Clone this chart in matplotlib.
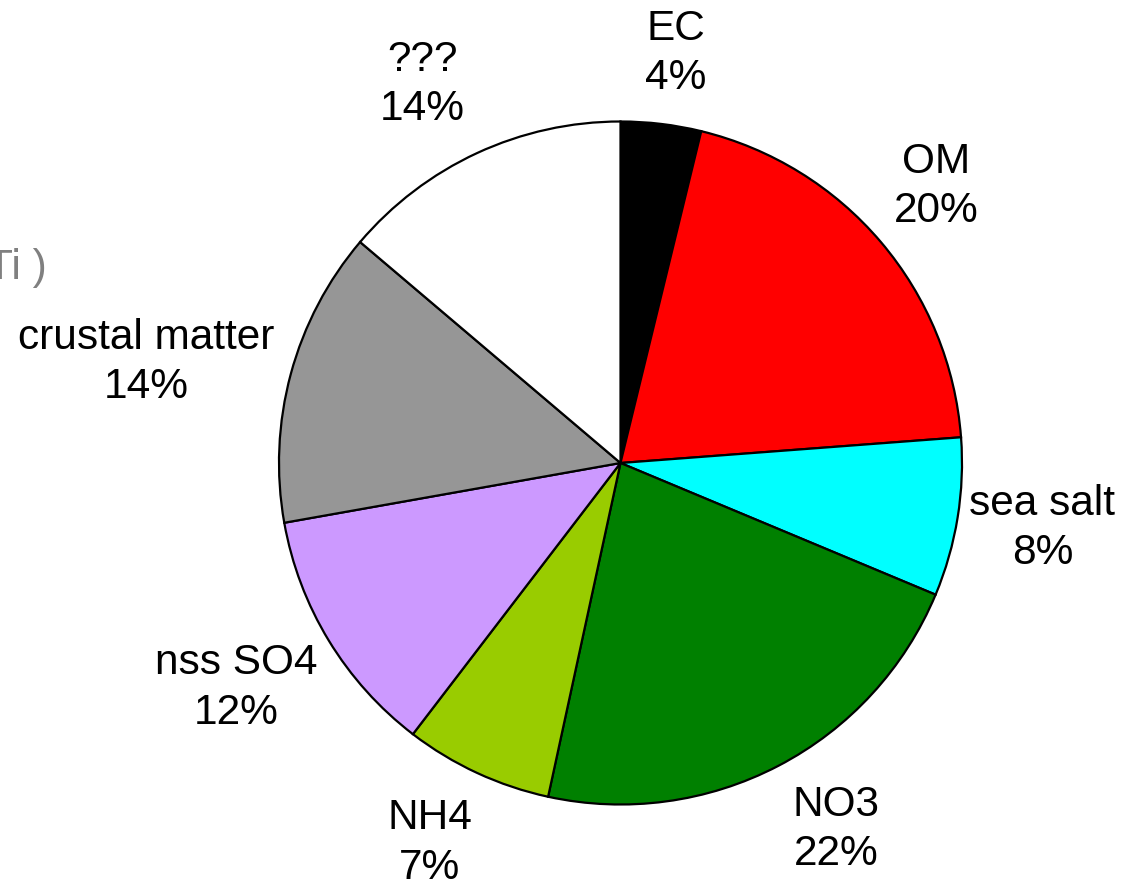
import numpy as np
import matplotlib
matplotlib.use("Agg")
import matplotlib.pyplot as plt

matplotlib.rcParams['font.family'] = ['Liberation Sans', 'DejaVu Sans']

# composition (percent), clockwise from 12 o'clock
names = ['EC', 'OM', 'sea salt', 'NO3', 'NH4', 'nss SO4', 'crustal matter', '???']
values = [3.8, 20.0, 7.5, 22.1, 7.0, 11.8, 14.0, 13.8]
pct_labels = ['4%', '20%', '8%', '22%', '7%', '12%', '14%', '14%']
colors = ['#000000', '#ff0000', '#00ffff', '#008000', '#99cc00', '#cc99ff', '#969696', '#ffffff']
# label placement: radius (in pie radii) and angular nudge (deg, clockwise)
label_r = [1.21, 1.23, 1.25, 1.245, 1.245, 1.305, 1.42, 1.25]
label_dang = [0.9, -0.9, -0.4, -2.9, 1.8, 1.0, -3.2, -2.8]

W, H = 1125, 885
fig = plt.figure(figsize=(W/100, H/100), dpi=100)
cx, cy, r = 620.5, 463, 341.5
ax = fig.add_axes([(cx-r)/W, (H-cy-r)/H, 2*r/W, 2*r/H])

wedges, _ = ax.pie(values, colors=colors, startangle=90, counterclock=False,
                   wedgeprops=dict(edgecolor='black', linewidth=1.6))
ax.set_xlim(-1, 1); ax.set_ylim(-1, 1)
ax.set_aspect('auto')
ax.axis('off')

for w, nm, pl, lr, da in zip(wedges, names, pct_labels, label_r, label_dang):
    th = np.deg2rad((w.theta1 + w.theta2) / 2 - da)
    ax.text(lr*np.cos(th), lr*np.sin(th), f'{nm}\n{pl}', ha='center', va='center',
            fontsize=30.5, linespacing=1.3, clip_on=False)

# clipped piece of a neighbouring label at the left edge
fig.text(47/W, 1-268/H, 'Ti )', ha='right', va='center', fontsize=30.5, color='#808080')

fig.savefig('out.png', dpi=100)
